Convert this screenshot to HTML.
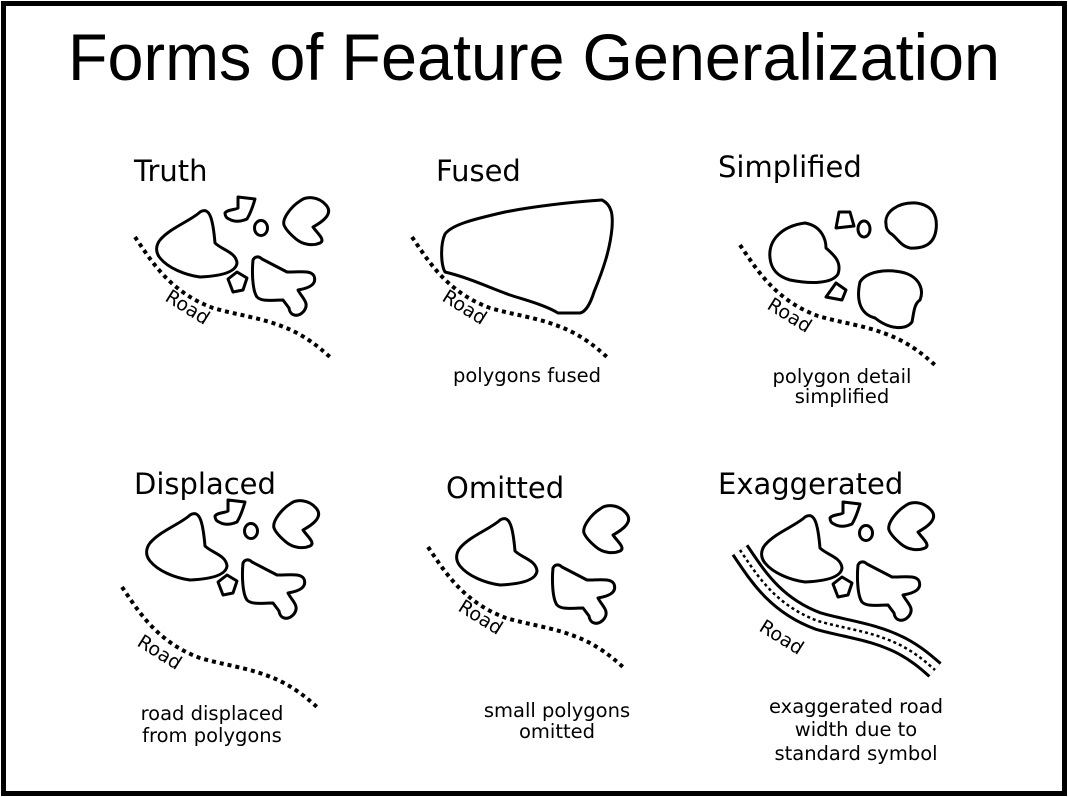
<!DOCTYPE html>
<html><head><meta charset="utf-8"><style>
html,body{margin:0;padding:0;background:#fff}
svg{display:block}
.h{font-family:"DejaVu Sans","Liberation Sans",sans-serif;font-size:29px;fill:#000}
.c{font-family:"DejaVu Sans","Liberation Sans",sans-serif;font-size:19.5px;fill:#000;text-anchor:middle}
.r{font-family:"DejaVu Sans","Liberation Sans",sans-serif;font-size:19px;fill:#000}
.s{fill:none;stroke:#000;stroke-width:3;stroke-linejoin:round}
.d{fill:none;stroke:#000;stroke-width:4;stroke-dasharray:4 4}
</style></head><body>
<svg width="1068" height="797" viewBox="0 0 1068 797" xmlns="http://www.w3.org/2000/svg">
<rect x="3.5" y="3.5" width="1061" height="790" fill="#fff" stroke="#000" stroke-width="5"/>
<text x="68" y="80" font-family="Liberation Sans, Arial, sans-serif" font-size="66" textLength="932" lengthAdjust="spacingAndGlyphs">Forms of Feature Generalization</text>
<defs>
<path id="big" class="s" d="M160,240 C170,228 192,220 200,212 C210,206 213,220 215,243 C222,250 236,252 237,263 C236,272 222,276 200,277 C185,275 168,268 160,258 C155,252 156,245 160,240 Z"/>
<path id="plane" class="s" d="M253,260 C255,256 259,256 262,259 L287,272 C300,272 311,270 314,276 C317,284 310,288 298,290 C302,298 310,303 304,311 C298,318 290,316 289,308 L283,300 C272,300 262,302 257,297 C252,290 252,270 253,260 Z"/>
<path id="rb" class="s" d="M284,225 C282,218 292,206 300,201 C306,196 318,196 326,205 C334,214 322,222 313,227 C317,233 326,240 320,243 C313,246 303,245 296,239 C290,234 286,230 284,225 Z"/>
<path id="u" class="s" d="M225,213 C228,209 236,210 238,208 L238,197 L255,199 C253,206 250,214 247,219 C240,222 234,222 229,219 C226,218 225,215 225,213 Z"/>
<ellipse id="circ" class="s" cx="261" cy="228" rx="6.5" ry="7.5"/>
<path id="pent" class="s" d="M228,279 L237,272 L247,278 L243,290 L233,292 Z"/>
<path id="road" class="d" d="M135,237 C152,262 170,292 213,308 C240,316 268,318 297,333 C312,341 322,350 330,357"/>
</defs>
<!-- Truth -->
<text class="h" x="134" y="181">Truth</text>
<use href="#big"/><use href="#plane"/><use href="#rb"/><use href="#u"/><use href="#circ"/><use href="#pent"/><use href="#road"/>
<text class="r" transform="translate(164,300) rotate(32)">Road</text>
<!-- Fused -->
<text class="h" x="436" y="181">Fused</text>
<path class="s" d="M445,234 C452,225 470,220 505,212 C530,207 570,202 602,200 C612,205 613,215 612,228 C610,250 603,270 594,292 C590,305 585,312 580,313 L558,313 C545,305 525,300 510,295 C490,288 470,278 445,272 C441,265 440,245 445,234 Z"/>
<use href="#road" transform="translate(277,0)"/>
<text class="r" transform="translate(441,300) rotate(32)">Road</text>
<text class="c" x="527" y="382">polygons fused</text>
<!-- Simplified -->
<text class="h" x="718" y="177">Simplified</text>
<path class="s" d="M770,258 C768,240 782,226 805,223 C822,226 826,240 826,248 C834,255 842,262 838,274 C832,284 810,284 790,280 C776,276 771,268 770,258 Z"/>
<path class="s" d="M836,228 L839,212 L850,212 L854,226 Z"/>
<ellipse class="s" cx="864" cy="229" rx="6" ry="8"/>
<path class="s" d="M886,224 C884,212 898,202 916,203 C932,205 938,215 936,230 C934,244 924,249 910,248 C900,246 896,236 890,233 C887,230 886,228 886,224 Z"/>
<path class="s" d="M860,282 C866,272 885,268 905,273 C920,278 924,290 920,300 C914,304 914,312 912,322 C906,330 890,330 875,318 C860,314 856,300 860,282 Z"/>
<path class="s" d="M826,297 L836,283 L846,290 L842,300 Z"/>
<use href="#road" transform="translate(605,8)"/>
<text class="r" transform="translate(766,308) rotate(32)">Road</text>
<text class="c" x="842" y="383">polygon detail</text>
<text class="c" x="842" y="403">simplified</text>
<!-- Displaced -->
<text class="h" x="134" y="494">Displaced</text>
<g transform="translate(-10,303)"><use href="#big"/><use href="#plane"/><use href="#rb"/><use href="#u"/><use href="#circ"/><use href="#pent"/></g>
<use href="#road" transform="translate(-13,350)"/>
<text class="r" transform="translate(136,645) rotate(32)">Road</text>
<text class="c" x="212" y="720">road displaced</text>
<text class="c" x="212" y="742">from polygons</text>
<!-- Omitted -->
<text class="h" x="446" y="498">Omitted</text>
<g transform="translate(300,308)"><use href="#big"/><use href="#plane"/><use href="#rb"/></g>
<use href="#road" transform="translate(293,310)"/>
<text class="r" transform="translate(457,610) rotate(32)">Road</text>
<text class="c" x="557" y="717">small polygons</text>
<text class="c" x="557" y="738">omitted</text>
<!-- Exaggerated -->
<text class="h" x="718" y="494">Exaggerated</text>
<g transform="translate(605,305)"><use href="#big"/><use href="#plane"/><use href="#rb"/><use href="#u"/><use href="#circ"/><use href="#pent"/></g>
<g transform="translate(605,313)">
<path d="M135,237 C152,262 170,292 213,308 C240,316 268,318 297,333 C312,341 322,350 330,357" fill="none" stroke="#000" stroke-width="20"/>
<path d="M135,237 C152,262 170,292 213,308 C240,316 268,318 297,333 C312,341 322,350 330,357" fill="none" stroke="#fff" stroke-width="14"/>
<path d="M135,237 C152,262 170,292 213,308 C240,316 268,318 297,333 C312,341 322,350 330,357" fill="none" stroke="#000" stroke-width="2.5" stroke-dasharray="3 3"/>
</g>
<text class="r" transform="translate(758,630) rotate(32)">Road</text>
<text class="c" x="856" y="713">exaggerated road</text>
<text class="c" x="856" y="736">width due to</text>
<text class="c" x="856" y="760">standard symbol</text>
</svg>
</body></html>
